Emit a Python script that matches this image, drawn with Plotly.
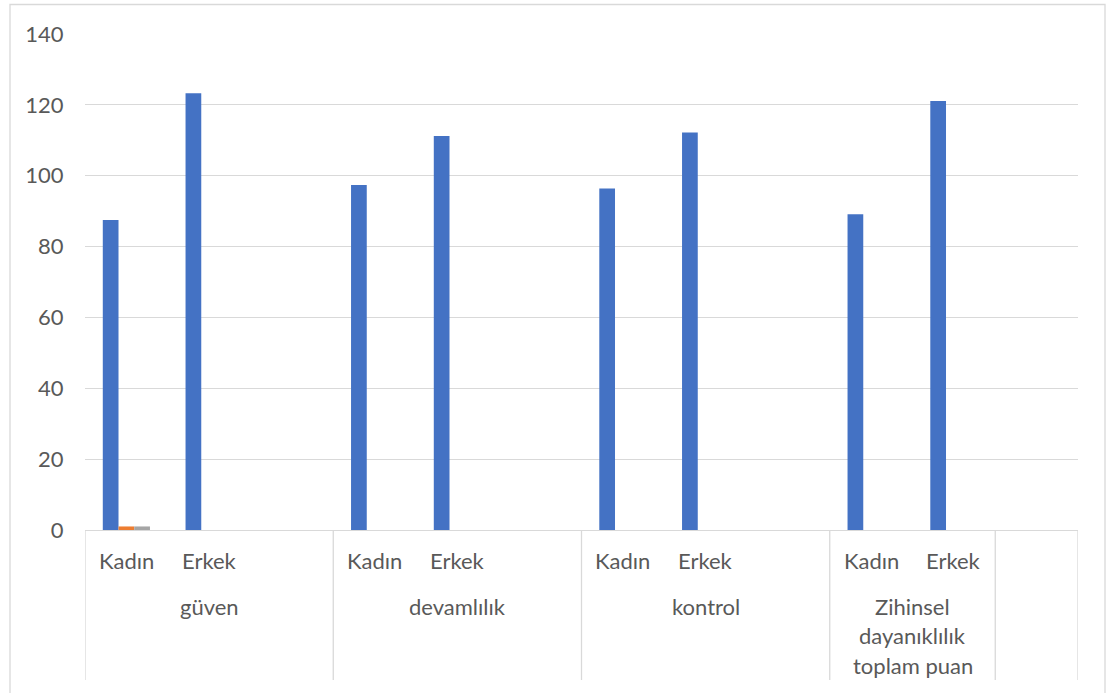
import plotly.graph_objects as go

# ---- data ----
sub_labels = ["Kadın", "Erkek", "", "Kadın", "Erkek", "", "Kadın", "Erkek", "", "Kadın", "Erkek", ""]
group_labels = ["güven", "güven", "güven",
                "devamlılık", "devamlılık", "devamlılık",
                "kontrol", "kontrol", "kontrol",
                "Zihinsel\ndayanıklılık\ntoplam puan", "Zihinsel\ndayanıklılık\ntoplam puan",
                ""]
series1 = [87.5, 123.3, None, 97.4, 111.2, None, 96.4, 112.2, None, 89.1, 121.1, None]
series2 = [1, 0, None, 0, 0, None, 0, 0, None, 0, 0, None]
series3 = [1, 0, None, 0, 0, None, 0, 0, None, 0, 0, None]
y_ticks = [0, 20, 40, 60, 80, 100, 120, 140]

# ---- figure ----
cats = [f"{g}|{s}|{i}" for i, (g, s) in enumerate(zip(group_labels, sub_labels))]
FONT = "Lato"
TXT = "#595959"
GRID = "#D9D9D9"
FS = 22

fig = go.Figure()
for vals, col, name in [(series1, "#4472C4", "S1"), (series2, "#ED7D31", "S2"), (series3, "#A5A5A5", "S3")]:
    fig.add_trace(go.Bar(x=cats, y=vals, marker=dict(color=col, line=dict(width=0)), name=name))

W, H = 1106, 693
L, R, T, B = 85, 28, 34, 163
pw, ph = W - L - R, H - T - B

def py(ypix):
    return (H - B - ypix) / ph

def px(xpix):
    return (xpix - L) / pw

shapes = []
annotations = []

# outer chart border
shapes.append(dict(type="rect", xref="paper", yref="paper",
                   x0=px(10), x1=px(1105), y0=py(720), y1=py(4.5),
                   line=dict(color=GRID, width=1.3), layer="below"))

# sub labels
for c, s in zip(cats, sub_labels):
    if s:
        annotations.append(dict(x=c, xref="x", y=py(560), yref="paper", text=s, showarrow=False,
                                font=dict(family=FONT, size=FS, color=TXT), xanchor="center", yanchor="middle"))

# group spans
spans = []
start = 0
for i in range(1, len(group_labels) + 1):
    if i == len(group_labels) or group_labels[i] != group_labels[start]:
        spans.append((start, i - 1, group_labels[start]))
        start = i

bounds = set()
for a, b, g in spans:
    bounds.add(a - 0.5)
    bounds.add(b + 0.5)
    center = (a + b) / 2
    for k, line in enumerate(g.split("\n")):
        if line:
            annotations.append(dict(x=center, xref="x", y=py(606 + 29.5 * k), yref="paper", text=line,
                                    showarrow=False, font=dict(family=FONT, size=FS, color=TXT),
                                    xanchor="center", yanchor="middle"))

for bx in sorted(bounds):
    shapes.append(dict(type="line", xref="x", yref="paper", x0=bx, x1=bx, y0=0, y1=py(680),
                       line=dict(color=GRID, width=1.3)))

fig.update_layout(
    width=W, height=H, autosize=False,
    margin=dict(l=L, r=R, t=T, b=B),
    paper_bgcolor="white", plot_bgcolor="white",
    barmode="group", bargap=0.43, bargroupgap=0,
    showlegend=False,
    shapes=shapes, annotations=annotations,
    font=dict(family=FONT, size=FS, color=TXT),
)
fig.update_xaxes(type="category", categoryorder="array", categoryarray=cats,
                 range=[-0.5, len(cats) - 0.5], showticklabels=False, ticks="",
                 showgrid=False, zeroline=False, showline=True, linecolor=GRID, linewidth=1.3)
fig.update_yaxes(range=[0, 140], tickvals=y_ticks, ticktext=[str(v) for v in y_ticks],
                 showgrid=True, gridcolor=GRID, gridwidth=1.3, zeroline=False, showline=False,
                 ticks="outside", ticklen=16, tickcolor="rgba(0,0,0,0)",
                 tickfont=dict(family=FONT, size=FS, color=TXT))

fig.write_html("out.html")
